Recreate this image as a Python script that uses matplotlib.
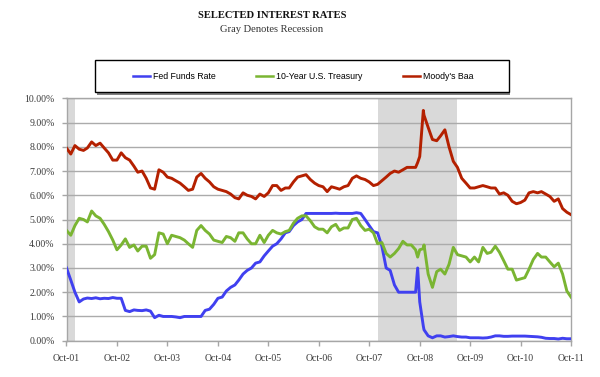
import matplotlib
matplotlib.use("Agg")
import matplotlib.pyplot as plt
import matplotlib.dates as mdates
from matplotlib.ticker import FuncFormatter, MultipleLocator
from matplotlib.patches import Rectangle
import pandas as pd

# ---------------- data ----------------
month_starts = pd.date_range("2001-10-01", "2011-10-01", freq="MS")
event_dates = pd.to_datetime(["2008-09-16", "2008-10-27"])
dates = month_starts.append(event_dates).sort_values()

fed_funds = [
    3.00, 2.50, 2.00,                                                   # 2001 Oct-Dec
    1.60, 1.72, 1.76, 1.74, 1.77, 1.73, 1.75, 1.74, 1.78, 1.75, 1.75, 1.25,  # 2002
    1.20, 1.27, 1.25, 1.24, 1.27, 1.22, 0.95, 1.05, 1.00, 1.00, 1.00, 0.98,  # 2003
    0.95, 1.00, 1.00, 1.00, 1.00, 1.00, 1.25, 1.30, 1.50, 1.75, 1.80, 2.05,  # 2004
    2.20, 2.30, 2.50, 2.75, 2.90, 3.00, 3.20, 3.25, 3.50, 3.70, 3.90, 4.00,  # 2005
    4.20, 4.45, 4.50, 4.75, 4.90, 5.00, 5.25, 5.25, 5.25, 5.25, 5.25, 5.25,  # 2006
    5.25, 5.26, 5.25, 5.25, 5.25, 5.25, 5.28, 5.25, 5.00, 4.75, 4.50, 4.45,  # 2007
    3.90, 3.00, 2.90, 2.30, 2.00, 2.00, 2.00, 2.00, 2.00, 3.00, 1.60, 0.60, 0.45, 0.20,  # 2008 (+2 events)
    0.12, 0.20, 0.20, 0.15, 0.17, 0.20, 0.17, 0.15, 0.15, 0.12, 0.12, 0.12,  # 2009
    0.11, 0.12, 0.15, 0.20, 0.20, 0.18, 0.18, 0.19, 0.19, 0.19, 0.19, 0.18,  # 2010
    0.17, 0.16, 0.14, 0.10, 0.09, 0.09, 0.07, 0.10, 0.08, 0.08,              # 2011 Jan-Oct
]

treasury_10y = [
    4.55, 4.35, 4.75,
    5.05, 5.00, 4.90, 5.35, 5.15, 5.05, 4.80, 4.50, 4.15, 3.75, 3.95, 4.20,
    3.85, 3.95, 3.70, 3.90, 3.90, 3.40, 3.55, 4.45, 4.40, 4.00, 4.35, 4.30,
    4.25, 4.15, 4.00, 3.85, 4.55, 4.75, 4.55, 4.40, 4.15, 4.10, 4.05, 4.30,
    4.25, 4.10, 4.45, 4.45, 4.20, 4.00, 4.00, 4.35, 4.05, 4.35, 4.55, 4.45,
    4.40, 4.50, 4.55, 4.85, 5.05, 5.15, 5.15, 4.95, 4.70, 4.60, 4.60, 4.45,
    4.70, 4.80, 4.55, 4.65, 4.65, 5.00, 5.05, 4.75, 4.55, 4.60, 4.45, 4.00,
    4.05, 3.60, 3.45, 3.60, 3.80, 4.10, 3.95, 3.95, 3.75, 3.45, 3.75, 3.80, 3.95, 2.75,
    2.20, 2.85, 2.95, 2.75, 3.15, 3.85, 3.55, 3.50, 3.45, 3.25, 3.45, 3.25,
    3.85, 3.60, 3.65, 3.90, 3.65, 3.30, 2.95, 2.95, 2.50, 2.55, 2.60, 2.95,
    3.35, 3.60, 3.45, 3.45, 3.25, 3.05, 3.20, 2.75, 2.05, 1.80,
]

moodys_baa = [
    7.95, 7.70, 8.05,
    7.90, 7.85, 7.95, 8.20, 8.05, 8.15, 7.95, 7.75, 7.45, 7.45, 7.75, 7.55,
    7.45, 7.20, 6.95, 7.00, 6.70, 6.30, 6.25, 7.05, 6.95, 6.75, 6.70, 6.60,
    6.50, 6.35, 6.20, 6.25, 6.75, 6.90, 6.70, 6.55, 6.35, 6.25, 6.20, 6.15,
    6.05, 5.90, 5.85, 6.10, 6.00, 5.95, 5.85, 6.05, 5.95, 6.10, 6.40, 6.40,
    6.20, 6.30, 6.30, 6.55, 6.75, 6.80, 6.85, 6.65, 6.50, 6.40, 6.35, 6.15,
    6.35, 6.30, 6.25, 6.35, 6.40, 6.70, 6.80, 6.70, 6.65, 6.55, 6.40, 6.45,
    6.60, 6.75, 6.90, 7.00, 6.95, 7.05, 7.15, 7.15, 7.15, 7.35, 7.60, 9.50, 9.30, 8.80,
    8.30, 8.25, 8.45, 8.70, 8.00, 7.40, 7.15, 6.70, 6.50, 6.30, 6.30, 6.35,
    6.40, 6.35, 6.30, 6.30, 6.05, 6.10, 6.00, 5.75, 5.65, 5.70, 5.80, 6.10,
    6.15, 6.10, 6.15, 6.05, 5.95, 5.75, 5.85, 5.45, 5.30, 5.20,
]

recessions = [("2001-10-01", "2001-11-30"), ("2007-12-01", "2009-06-30")]
series_labels = ["Fed Funds Rate", "10-Year U.S. Treasury", "Moody's Baa"]
series_colors = ["#4040F0", "#7AB532", "#B42000"]

# ---------------- figure ----------------
W, H = 600, 377
fig = plt.figure(figsize=(W / 100, H / 100), dpi=100)
ax = fig.add_axes([66.5 / W, 1 - 340.7 / H, (571 - 66.5) / W, (340.7 - 98.3) / H])

serif = "Liberation Serif"
sans = "Liberation Sans"

for start, end in recessions:
    ax.axvspan(pd.Timestamp(start), pd.Timestamp(end), color="#D9D9D9", lw=0, zorder=0)

lines = []
for vals, lab, col in zip([fed_funds, treasury_10y, moodys_baa], series_labels, series_colors):
    ln, = ax.plot(dates, vals, color=col, lw=2.1, label=lab, zorder=3,
                  solid_joinstyle="round")
    lines.append(ln)

ax.set_xlim(pd.Timestamp("2001-10-01"), pd.Timestamp("2011-10-01"))
ax.set_ylim(0, 10)
ax.yaxis.set_major_locator(MultipleLocator(1))
ax.yaxis.set_major_formatter(FuncFormatter(lambda v, p: f"{v:.2f}%"))
ax.xaxis.set_major_locator(mdates.MonthLocator(bymonth=10, bymonthday=1))
ax.xaxis.set_major_formatter(mdates.DateFormatter("%b-%y"))

ax.grid(axis="y", color="#ABABAB", lw=1.0, zorder=1)
ax.set_axisbelow(True)
for s in ax.spines.values():
    s.set_color("#A6A6A6")
    s.set_linewidth(1.0)

ax.tick_params(axis="both", colors="#A6A6A6", labelcolor="#3A3A3A",
               labelsize=7, length=3.5, width=1.0, direction="out")
ax.tick_params(axis="x", pad=6)
ax.tick_params(axis="y", pad=5)
for lab in ax.get_xticklabels() + ax.get_yticklabels():
    lab.set_fontfamily(serif)

# titles
fig.text(272 / W, 1 - 15 / H, "SELECTED INTEREST RATES", ha="center", va="center",
         fontfamily=serif, fontweight="bold", fontsize=7.6, color="#111111")
fig.text(272 / W, 1 - 29.5 / H, "Gray Denotes Recession", ha="center", va="center",
         fontfamily=serif, fontsize=7.6, color="#333333")

# legend box with shadow
bx, by, bw, bh = 95, 60.4, 414, 32
fig.patches.append(Rectangle(((bx + 1.5) / W, 1 - (by + bh + 2.5) / H), bw / W, bh / H,
                             transform=fig.transFigure, facecolor="#808080",
                             edgecolor="none", zorder=1))
fig.patches.append(Rectangle((bx / W, 1 - (by + bh) / H), bw / W, bh / H,
                             transform=fig.transFigure, facecolor="white",
                             edgecolor="black", lw=1.0, zorder=2))
leg = fig.legend(handles=lines, labels=series_labels, loc="center",
                 bbox_to_anchor=(303 / W, 1 - 76.5 / H), ncol=3, frameon=False,
                 prop={"family": sans, "size": 6.3}, handlelength=2.0,
                 handletextpad=0.3, columnspacing=4.6)
leg.set_zorder(5)
for h in leg.legend_handles:
    h.set_linewidth(1.8)

fig.savefig("out.png", dpi=100)
